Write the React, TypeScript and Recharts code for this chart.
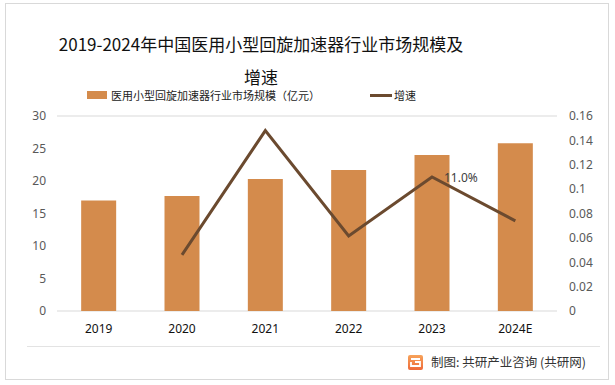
import React from 'react';
import { ComposedChart, Bar, Line, XAxis, YAxis, CartesianGrid, LabelList, Legend } from 'recharts';

const years = ['2019', '2020', '2021', '2022', '2023', '2024E'];
const marketSize = [17.0, 17.7, 20.3, 21.7, 24.0, 25.8];
const growth: (number | null)[] = [null, 0.046, 0.148, 0.0615, 0.11, 0.074];
const leftTicks = [0, 5, 10, 15, 20, 25, 30];
const rightTicks = [0, 0.02, 0.04, 0.06, 0.08, 0.1, 0.12, 0.14, 0.16];
const titleLine1 = '2019-2024年中国医用小型回旋加速器行业市场规模及';
const titleLine2 = '增速';
const barName = '医用小型回旋加速器行业市场规模（亿元）';
const lineName = '增速';
const footer = '制图: 共研产业咨询 (共研网)';
const labelIndex = 4;
const labelText = '11.0%';

const data = years.map((y, i) => ({ year: y, size: marketSize[i], growth: growth[i] }));

const BAR_COLOR = '#D48B4C';
const LINE_COLOR = '#6B4A2F';
const CJK = '"Noto Sans CJK SC", "Noto Sans", sans-serif';

const renderLegend = () => (
  <div style={{ position: 'relative', height: 20, fontFamily: CJK, fontSize: 11, color: '#222' }}>
    <div style={{ position: 'absolute', left: 87, top: 3, width: 20, height: 8, background: BAR_COLOR }} />
    <div style={{ position: 'absolute', left: 111, top: -2, whiteSpace: 'nowrap', lineHeight: '18px' }}>{barName}</div>
    <div style={{ position: 'absolute', left: 370, top: 6, width: 22, height: 3, background: LINE_COLOR }} />
    <div style={{ position: 'absolute', left: 394, top: -2, whiteSpace: 'nowrap', lineHeight: '18px' }}>{lineName}</div>
  </div>
);

const renderPointLabel = (props: any) => {
  const { x, y, index } = props;
  if (index !== labelIndex) return null;
  return (
    <text x={x + 12} y={y + 5} fill="#404040" fontSize={12} fontFamily='"Noto Sans", sans-serif'>
      {labelText}
    </text>
  );
};

export default function App() {
  return (
    <div style={{ position: 'absolute', left: 0, top: 0, width: 615, height: 385, background: '#fff', overflow: 'hidden' }}>
      <div style={{ position: 'absolute', left: 5, top: 3, width: 604, height: 377, border: '1px solid #d9d9d9', boxSizing: 'border-box' }} />
      <div style={{ position: 'absolute', left: 0, top: 27, width: 522, textAlign: 'center', fontFamily: CJK, fontSize: 17, lineHeight: '33px', color: '#111' }}>
        <div>{titleLine1}</div>
        <div>{titleLine2}</div>
      </div>
      <div style={{ position: 'absolute', left: 27, top: 346, width: 573, height: 1, background: '#e3e3e3' }} />
      <svg style={{ position: 'absolute', left: 408, top: 355 }} width={15} height={15}>
        <defs>
          <linearGradient id="lg" x1="0" y1="0" x2="0" y2="1">
            <stop offset="0" stopColor="#F7A35A" />
            <stop offset="1" stopColor="#EE6A3A" />
          </linearGradient>
        </defs>
        <rect x={0} y={0} width={15} height={15} rx={2} fill="url(#lg)" />
        <path d="M3 4 H12 M7 7 H12 V11 H3 V7" stroke="#fff" strokeWidth={1.8} fill="none" />
      </svg>
      <div style={{ position: 'absolute', left: 431, top: 353, whiteSpace: 'nowrap', fontFamily: CJK, fontSize: 12.5, lineHeight: '18px', color: '#333' }}>
        {footer}
      </div>
      <div style={{ position: 'absolute', left: 0, top: 0 }}>
        <ComposedChart width={615} height={385} data={data} margin={{ top: 96, right: 18, bottom: 44, left: 17 }} barCategoryGap="29%">
          <CartesianGrid vertical={false} stroke="#d9d9d9" />
          <XAxis dataKey="year" axisLine={false} tickLine={false} tickMargin={7} height={30}
            tick={{ fill: '#111', fontSize: 12, fontFamily: '"Noto Sans", sans-serif' }} />
          <YAxis yAxisId="left" domain={[0, 30]} ticks={leftTicks} axisLine={false} tickLine={false} width={40} tickMargin={5}
            tick={{ fill: '#595959', fontSize: 12, fontFamily: '"Noto Sans", sans-serif' }} />
          <YAxis yAxisId="right" orientation="right" domain={[0, 0.16]} ticks={rightTicks} axisLine={false} tickLine={false} width={40} tickMargin={6}
            tick={{ fill: '#595959', fontSize: 12, fontFamily: '"Noto Sans", sans-serif' }} />
          <Legend verticalAlign="top" content={renderLegend} wrapperStyle={{ top: 88, left: 0, width: 615, height: 20 }} />
          <Bar yAxisId="left" dataKey="size" name={barName} fill={BAR_COLOR} isAnimationActive={false} />
          <Line yAxisId="right" dataKey="growth" name={lineName} stroke={LINE_COLOR} strokeWidth={3} dot={false} isAnimationActive={false}>
            <LabelList dataKey="growth" content={renderPointLabel} />
          </Line>
        </ComposedChart>
      </div>
    </div>
  );
}
